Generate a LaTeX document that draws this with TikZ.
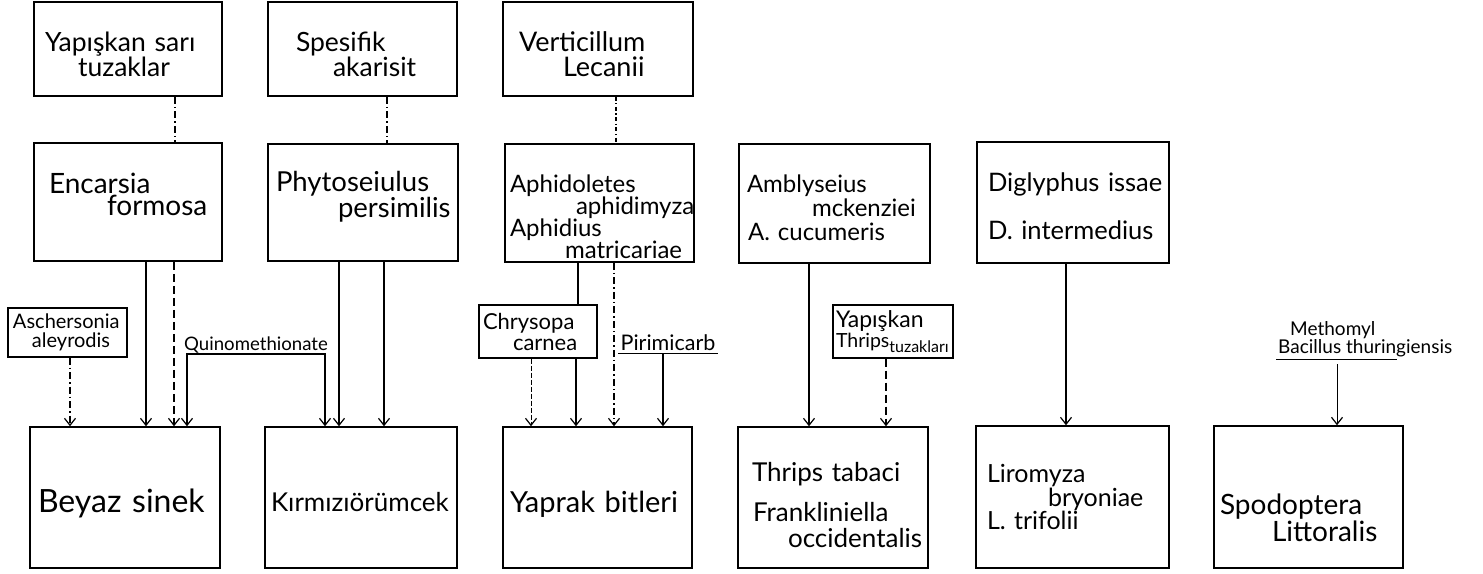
\documentclass[tikz,border=0pt]{standalone}
\usepackage{fontspec}
\setmainfont{Lato}
\usetikzlibrary{arrows.meta}
\newcommand\setfs[2]{\fontsize{#1}{#2}\selectfont}
% invisible struts that move a text block down (extra height) or up (extra depth)
\newcommand\topgap[1]{\rule{0pt}{#1}}
\newcommand\botgap[1]{\rule[-#1]{0pt}{#1}}
\begin{document}
\begin{tikzpicture}[x=1pt,y=-1pt,
  box/.style={draw, line width=1.5pt, inner sep=0pt, align=left},
  conn/.style={line width=1.2pt},
  arr/.style={conn, -{Straight Barb[length=7pt,width=11pt,line width=1.2pt]}},
  arrboth/.style={conn, {Straight Barb[length=7pt,width=11pt,line width=1.2pt]}-{Straight Barb[length=7pt,width=11pt,line width=1.2pt]}},
  dashdot/.style={dash pattern=on 7pt off 3pt on 1.5pt off 3pt},
  finedashdot/.style={dash pattern=on 4pt off 2.5pt on 1.2pt off 2.5pt},
  longdash/.style={dash pattern=on 8pt off 4pt},
  thindash/.style={line width=0.8pt, dash pattern=on 5pt off 2pt},
  plain/.style={inner sep=1pt, align=left}
]
\useasboundingbox[fill=white] (0,0) rectangle (1483,573);

% top row: traps and sprays
\node[box, minimum width=188pt, minimum height=94pt, text width=172pt, font=\setfs{26.5}{25}] (tA) at (128,49)
  {\topgap{30pt}\hspace*{3pt}\mbox{Yapışkan sarı}\\\hspace*{36pt}tuzaklar};
\node[box, minimum width=189pt, minimum height=94pt, text width=173pt, font=\setfs{26.5}{25}] (tB) at (362.5,49)
  {\topgap{30pt}\hspace*{20pt}Spesifik\\\hspace*{57pt}akarisit};
\node[box, minimum width=190pt, minimum height=94pt, text width=174pt, font=\setfs{27}{25}] (tC) at (598,49)
  {\topgap{30pt}\hspace*{8pt}Verticillum\\\hspace*{52pt}Lecanii};

% middle row: natural enemies
\node[box, minimum width=188pt, minimum height=118pt, text width=172pt, font=\setfs{28}{22}] (mE) at (128,202)
  {\hspace*{7pt}Encarsia\\\hspace*{65pt}formosa\botgap{16pt}};
\node[box, minimum width=190pt, minimum height=117pt, text width=174pt, font=\setfs{27.5}{22}] (mP) at (363,202.5)
  {Phytoseiulus\\\hspace*{62pt}persimilis\botgap{17pt}};
\node[box, minimum width=189pt, minimum height=118pt, text width=183pt, font=\setfs{24}{22}] (mA) at (599.5,203)
  {\topgap{46pt}\hspace*{2pt}Aphidoletes\\\hspace*{68pt}\mbox{aphidimyza}\\\hspace*{2pt}Aphidius\\\hspace*{57pt}\mbox{matricariae}};
\node[box, minimum width=191pt, minimum height=119pt, text width=175pt, font=\setfs{24}{24}] (mAm) at (834.5,203.5)
  {\topgap{27pt}Amblyseius\\\hspace*{65pt}mckenziei\\\hspace*{1pt}\mbox{A. cucumeris}};
\node[box, minimum width=192pt, minimum height=121pt, text width=176pt, font=\setfs{25.5}{48}] (mD) at (1073,202.5)
  {\topgap{27pt}\hspace*{3pt}\mbox{Diglyphus issae}\\\hspace*{3pt}\mbox{D. intermedius}};

% bottom row: pests
\node[box, minimum width=190pt, minimum height=141pt, text width=174pt, font=\setfs{32}{34}] (bot1) at (125,497.5)
  {\topgap{35pt}\mbox{Beyaz sinek}};
\node[box, minimum width=192pt, minimum height=141pt, text width=180pt, font=\setfs{26}{34}] (bot2) at (361,497.5)
  {\topgap{29pt}\mbox{Kırmızıörümcek}};
\node[box, minimum width=189pt, minimum height=141pt, text width=175pt, font=\setfs{29}{34}] (bot3) at (597.5,497.5)
  {\topgap{35pt}\mbox{Yaprak bitleri}};
\node[box, minimum width=190pt, minimum height=141pt, text width=174pt, font=\setfs{26}{26}] (bot4) at (833,497.5)
  {\topgap{34pt}\hspace*{6pt}\mbox{Thrips tabaci}\\[14pt]\hspace*{7pt}\mbox{Frankliniella}\\\hspace*{42pt}\mbox{occidentalis}};
\node[box, minimum width=193pt, minimum height=142pt, text width=177pt, font=\setfs{25}{21}] (bot5) at (1072.5,497)
  {\hspace*{3pt}Liromyza\\\hspace*{64pt}bryoniae\\\hspace*{3pt}\mbox{L. trifolii}};
\node[box, minimum width=189pt, minimum height=142pt, text width=177pt, font=\setfs{28}{23}] (bot6) at (1308.5,497)
  {\topgap{62pt}Spodoptera\\\hspace*{52pt}Littoralis};

% small boxes
\node[box, line width=1.3pt, minimum width=119pt, minimum height=49pt, text width=111pt, font=\setfs{20}{19}] (asch) at (67.5,332.5)
  {\hspace*{1pt}\mbox{Aschersonia}\\\hspace*{20pt}aleyrodis};
\node[box, line width=1.3pt, minimum width=118pt, minimum height=53pt, text width=110pt, font=\setfs{22}{21}] (chry) at (538,331.5)
  {Chrysopa\\\hspace*{30pt}carnea};
\node[box, line width=1.3pt, minimum width=120pt, minimum height=53pt, text width=114pt, font=\setfs{23}{18}] (yapT) at (893,331.5)
  {Yapışkan\\\mbox{{\setfs{19.5}{18}Thrips}\raisebox{-5pt}{\setfs{16}{16}tuzakları}}};

% free labels
\node[plain, anchor=south, font=\setfs{18.6}{20}] (quino) at (256,354) {Quinomethionate};
\node[plain, inner sep=2pt, font=\setfs{21.5}{22}] (pirim) at (668,343) {Pirimicarb};
\draw[line width=1pt] (pirim.south west) -- (pirim.south east);
\node[plain, inner sep=2pt, anchor=south west, font=\setfs{19}{18}] (meth) at (1276,359)
  {\hspace*{12pt}Methomyl\\Bacillus thuringiensis};
\draw[line width=1pt] (meth.south west) -- ([xshift=121pt]meth.south west);

% top row to natural enemies
\coordinate (c1) at ([xshift=47pt]tA.south);
\draw[conn, dashdot] (c1) -- (c1 |- mE.north);
\coordinate (c2) at ([xshift=24.5pt]tB.south);
\draw[conn, dashdot] (c2) -- (c2 |- mP.north);
\coordinate (c3) at ([xshift=18pt]tC.south);
\draw[conn, finedashdot] (c3) -- (c3 |- mA.north);

% whitefly
\coordinate (e1) at ([xshift=18pt]mE.south);
\draw[arr] (e1) -- (e1 |- bot1.north);
\coordinate (e2) at ([xshift=46pt]mE.south);
\draw[arr, longdash] (e2) -- (e2 |- bot1.north);
\coordinate (a1) at ([xshift=2.5pt]asch.south);
\draw[arr, dashdot] (a1) -- (a1 |- bot1.north);
\coordinate (q1) at ([xshift=-69pt]quino.south);
\coordinate (q2) at ([xshift=69pt]quino.south);
\draw[arrboth] (q1 |- bot1.north) -- (q1) -- (q2) -- (q2 |- bot2.north);

% red spider mite
\coordinate (p1) at ([xshift=-24pt]mP.south);
\draw[arr] (p1) -- (p1 |- bot2.north);
\coordinate (p2) at ([xshift=21pt]mP.south);
\draw[arr] (p2) -- (p2 |- bot2.north);

% aphids
\coordinate (h1) at ([xshift=-21.5pt]mA.south);
\draw[conn] (h1) -- (h1 |- chry.north);
\coordinate (h2) at ([xshift=14.5pt]mA.south);
\draw[arr, dashdot] (h2) -- (h2 |- bot3.north);
\coordinate (k1) at ([xshift=-7pt]chry.south);
\draw[arr, thindash] (k1) -- (k1 |- bot3.north);
\coordinate (k2) at ([xshift=38pt]chry.south);
\draw[arr] (k2) -- (k2 |- bot3.north);
\coordinate (r1) at ([xshift=-5pt]pirim.south);
\draw[arr] (r1) -- (r1 |- bot3.north);

% thrips
\coordinate (t1) at ([xshift=-25.5pt]mAm.south);
\draw[arr] (t1) -- (t1 |- bot4.north);
\coordinate (t2) at ([xshift=-7pt]yapT.south);
\draw[arr, longdash] (t2) -- (t2 |- bot4.north);

% leaf miners
\coordinate (l1) at ([xshift=-7pt]mD.south);
\draw[arr] (l1) -- (l1 |- bot5.north);

% cotton leafworm
\coordinate (s1) at ([xshift=61pt,yshift=-5pt]meth.south west);
\draw[arr, line width=1pt] (s1) -- (s1 |- bot6.north);
\end{tikzpicture}
\end{document}
